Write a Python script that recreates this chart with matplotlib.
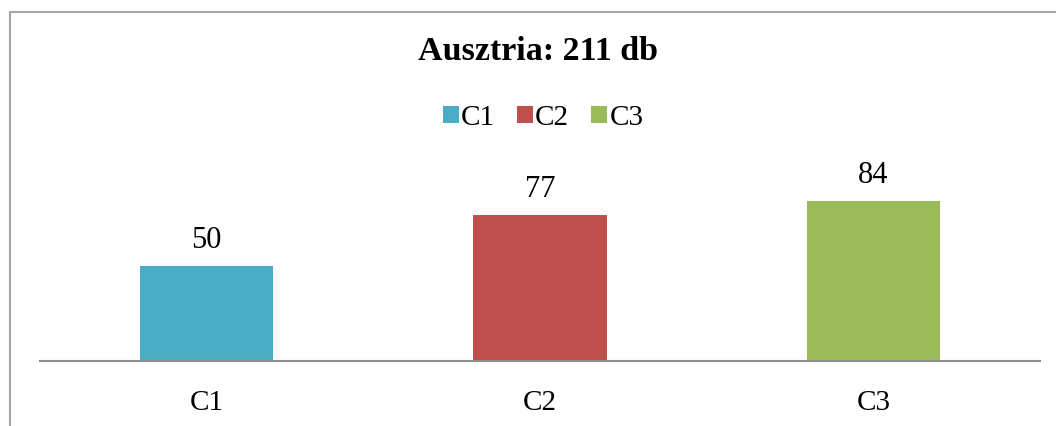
import matplotlib.pyplot as plt
from matplotlib.patches import Rectangle, Patch

# Data
categories = ["C1", "C2", "C3"]
counts = [50, 77, 84]
colors = ["#4BACC6", "#C0504D", "#9BBB59"]
title = "Ausztria: 211 db"

plt.rcParams["font.family"] = ["Liberation Serif", "DejaVu Serif"]

fig = plt.figure(figsize=(10.56, 4.26), dpi=100)

# outer chart frame
fig.patches.append(Rectangle((10 / 1056, -0.1), 1.2, (426 - 12) / 426 + 0.1,
                             transform=fig.transFigure, fill=False,
                             edgecolor="#a6a6a6", linewidth=1.5))

ax = fig.add_axes([40 / 1056, 65 / 426, 1000 / 1056, 190 / 426])
x = range(len(categories))
bars = ax.bar(x, counts, width=0.4, color=colors)
ax.set_xlim(-0.5, 2.5)
ax.set_ylim(0, 100)

for b, v in zip(bars, counts):
    ax.annotate(str(v), (b.get_x() + b.get_width() / 2, v), xytext=(0, 8),
                textcoords="offset points", ha="center", va="bottom", fontsize=22)

ax.set_xticks(list(x))
ax.set_xticklabels(categories, fontsize=21)
ax.tick_params(axis="x", length=0, pad=21)
ax.set_yticks([])
for s in ["top", "right", "left"]:
    ax.spines[s].set_visible(False)
ax.spines["bottom"].set_color("#8c8c8c")
ax.spines["bottom"].set_linewidth(1.5)

fig.text(538 / 1056, 1 - 51 / 426, title, ha="center", va="center",
         fontsize=24.5, fontweight="bold")

handles = [Patch(facecolor=c) for c in colors]
fig.legend(handles, categories, loc="center", bbox_to_anchor=(543 / 1056, 1 - 118 / 426),
           ncol=3, frameon=False, fontsize=21, handlelength=0.55, handleheight=0.55,
           handletextpad=0.08, columnspacing=0.75)

fig.savefig("out.png", dpi=100)
